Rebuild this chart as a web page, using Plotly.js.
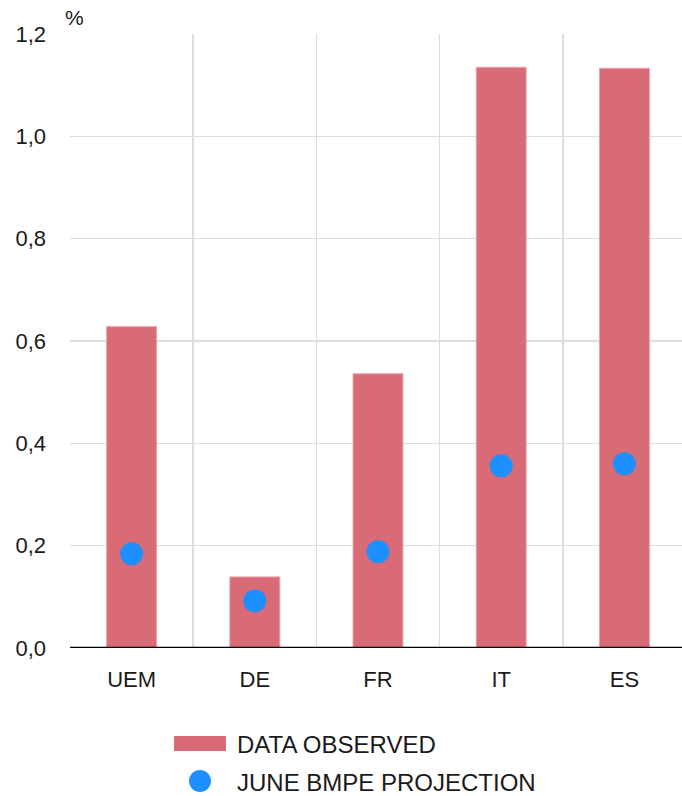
<!DOCTYPE html>
<html>
<head>
<meta charset="utf-8">
<script src="https://cdn.plot.ly/plotly-3.0.1.min.js"></script>
<style>html,body{margin:0;padding:0;background:#fff;}#chart{width:682px;height:796px;}</style>
</head>
<body>
<div id="chart"></div>
<script>
const categories = ["UEM", "DE", "FR", "IT", "ES"];
const observed = [0.628, 0.139, 0.536, 1.135, 1.133];
const projection = [0.184, 0.092, 0.188, 0.356, 0.360];
const yTicks = [0, 0.2, 0.4, 0.6, 0.8, 1.0, 1.2];
const seriesNames = ["DATA OBSERVED", "JUNE BMPE PROJECTION"];

const FONT = "Liberation Sans, Arial, sans-serif";
const BAR_COLOR = "#d96b77";
const DOT_COLOR = "#1e8fff";
const TXT = "#1a1a1a";

const L = 70, R = 682, T = 34, B = 648;
const px = x => (x - L) / (R - L);
const py = y => (B - y) / (B - T);

const traces = [
  {
    type: "bar", x: categories, y: observed, name: seriesNames[0],
    marker: {color: BAR_COLOR, line: {color: "#e8a0a8", width: 1}},
    width: 0.405, showlegend: false, hoverinfo: "x+y"
  },
  {
    type: "scatter", mode: "markers", x: categories, y: projection, name: seriesNames[1],
    marker: {color: DOT_COLOR, size: 23}, showlegend: false, cliponaxis: false
  }
];

const layout = {
  width: 682, height: 796,
  margin: {l: L, r: 0, t: T, b: 796 - B},
  paper_bgcolor: "#fff", plot_bgcolor: "#fff",
  separators: ", ",
  font: {family: FONT, size: 22, color: TXT},
  xaxis: {
    type: "category", range: [-0.5, 4.4675],
    tickson: "boundaries", showgrid: true, gridcolor: "#dddddd", gridwidth: 1.5,
    ticks: "", ticklabelstandoff: 16, showline: false, zeroline: false,
    tickfont: {family: FONT, size: 22, color: TXT}, fixedrange: true
  },
  yaxis: {
    range: [0, 1.2], tickvals: yTicks, tickformat: ".1f",
    showgrid: true, gridcolor: "#dddddd", gridwidth: 1.5,
    zeroline: false, showline: false, ticks: "", ticklabelstandoff: 23,
    tickfont: {family: FONT, size: 22, color: TXT}, fixedrange: true
  },
  shapes: [
    {type: "line", xref: "paper", yref: "y", x0: 0, x1: 1, y0: 0, y1: 0, line: {color: "#000", width: 2.5}},
    {type: "rect", xref: "paper", yref: "paper", x0: px(174), x1: px(226), y0: py(751), y1: py(736), fillcolor: BAR_COLOR, line: {width: 0}},
    {type: "circle", xref: "paper", yref: "paper", x0: px(189), x1: px(211), y0: py(792), y1: py(770), fillcolor: DOT_COLOR, line: {width: 0}}
  ],
  annotations: [
    {text: "%", xref: "paper", yref: "paper", x: px(63), y: py(18), xanchor: "left", yanchor: "middle", showarrow: false, font: {family: FONT, size: 21, color: TXT}},
    {text: seriesNames[0], xref: "paper", yref: "paper", x: px(235), y: py(744), xanchor: "left", yanchor: "middle", showarrow: false, font: {family: FONT, size: 24, color: TXT}},
    {text: seriesNames[1], xref: "paper", yref: "paper", x: px(235), y: py(782), xanchor: "left", yanchor: "middle", showarrow: false, font: {family: FONT, size: 24, color: TXT}}
  ]
};

Plotly.newPlot("chart", traces, layout, {displayModeBar: false, staticPlot: true});
</script>
</body>
</html>
